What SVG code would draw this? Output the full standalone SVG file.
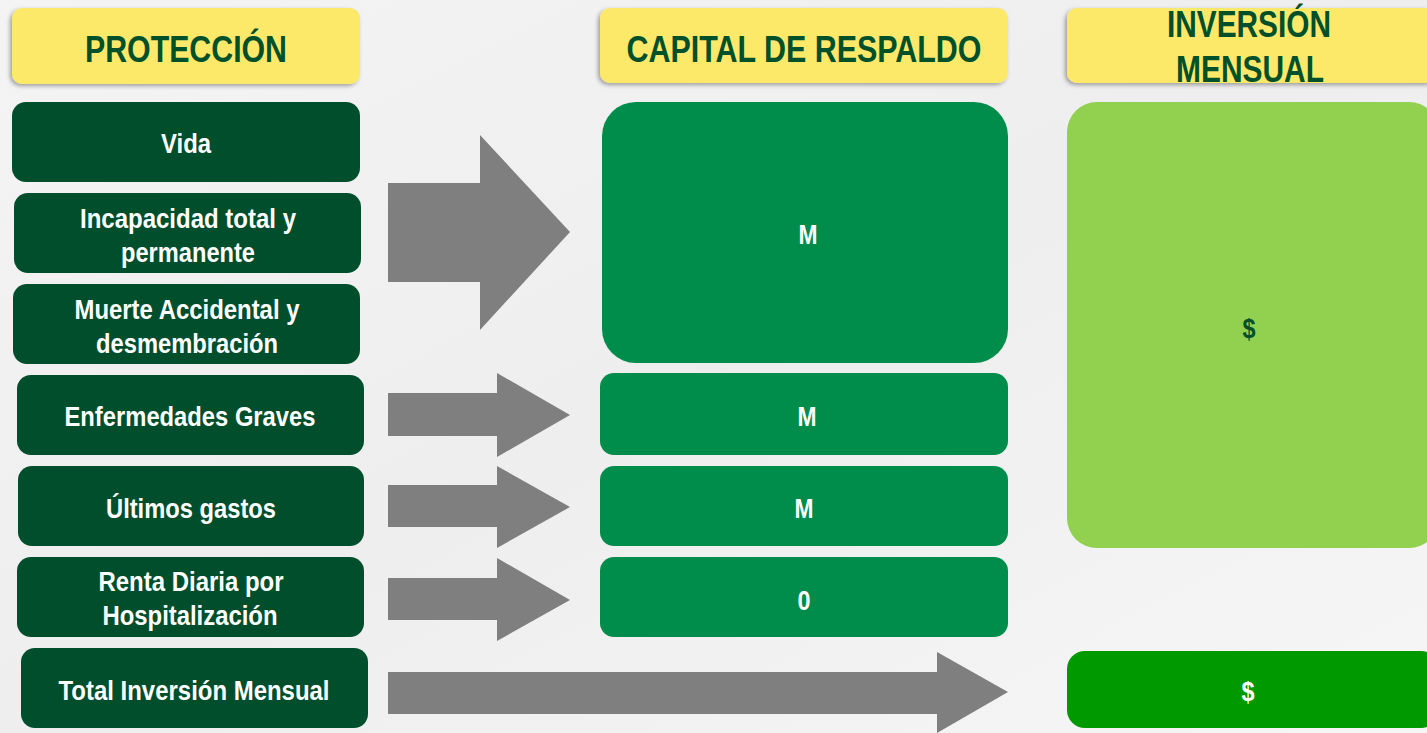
<svg xmlns="http://www.w3.org/2000/svg" width="1427" height="733" viewBox="0 0 1427 733">
<style>
.hdr{fill:#fce96a;filter:url(#sh)}
.ht{font-family:"Liberation Sans",Arial,sans-serif;font-weight:bold;font-size:37px;fill:#00502a;text-anchor:middle}
.ln{fill:#004e2b}
.mn{fill:#008d4c}
.nt{font-family:"Liberation Sans",Arial,sans-serif;font-weight:bold;font-size:27px;fill:#ffffff;text-anchor:middle}
.arr{fill:#7f7f7f}
</style>
<defs>
<filter id="sh" x="-10%" y="-20%" width="120%" height="150%">
<feDropShadow dx="-2" dy="2" stdDeviation="2" flood-color="#000" flood-opacity="0.35"/>
</filter>
<linearGradient id="bg" x1="0" y1="0" x2="1" y2="1">
<stop offset="0" stop-color="#f4f4f4"/>
<stop offset="0.5" stop-color="#eeeeee"/>
<stop offset="1" stop-color="#f6f6f6"/>
</linearGradient>
</defs>
<rect width="1427" height="733" fill="url(#bg)"/>

<g id="h1"><rect class="hdr" x="12" y="8" width="348" height="76" rx="10"/><text class="ht" x="186" y="62" textLength="202" lengthAdjust="spacingAndGlyphs">PROTECCIÓN</text></g>
<g id="h2"><rect class="hdr" x="600" y="8" width="408" height="75" rx="10"/><text class="ht" x="804" y="62" textLength="355" lengthAdjust="spacingAndGlyphs">CAPITAL DE RESPALDO</text></g>
<g id="h3"><rect class="hdr" x="1067" y="8" width="370" height="75" rx="10"/><text class="ht" x="1249" y="37" textLength="164" lengthAdjust="spacingAndGlyphs">INVERSIÓN</text><text class="ht" x="1250" y="82" textLength="148" lengthAdjust="spacingAndGlyphs">MENSUAL</text></g>

<g id="connectors">
<polygon class="arr" points="388,183 480,183 480,135 570,232 480,330 480,282 388,282"/>
<polygon class="arr" points="388,393 497,393 497,373 570,415 497,457 497,436 388,436"/>
<polygon class="arr" points="388,485 497,485 497,466 570,507 497,548 497,527 388,527"/>
<polygon class="arr" points="388,578 497,578 497,558 570,600 497,641 497,620 388,620"/>
<polygon class="arr" points="388,672 937,672 937,652 1008,692 937,733 937,714 388,714"/>
</g>

<g id="n-vida"><rect class="ln" x="12" y="102" width="348" height="80" rx="14"/><text class="nt" x="186" y="153" textLength="50" lengthAdjust="spacingAndGlyphs">Vida</text></g>
<g id="n-incap"><rect class="ln" x="14" y="193" width="347" height="80" rx="14"/><text class="nt" x="188" y="228" textLength="216" lengthAdjust="spacingAndGlyphs">Incapacidad total y</text><text class="nt" x="188" y="262" textLength="134" lengthAdjust="spacingAndGlyphs">permanente</text></g>
<g id="n-muerte"><rect class="ln" x="13" y="284" width="347" height="80" rx="14"/><text class="nt" x="187" y="319" textLength="225" lengthAdjust="spacingAndGlyphs">Muerte Accidental y</text><text class="nt" x="187" y="353" textLength="182" lengthAdjust="spacingAndGlyphs">desmembración</text></g>
<g id="n-enf"><rect class="ln" x="17" y="375" width="347" height="80" rx="14"/><text class="nt" x="190" y="426" textLength="251" lengthAdjust="spacingAndGlyphs">Enfermedades Graves</text></g>
<g id="n-ult"><rect class="ln" x="18" y="466" width="346" height="80" rx="14"/><text class="nt" x="191" y="518" textLength="170" lengthAdjust="spacingAndGlyphs">Últimos gastos</text></g>
<g id="n-renta"><rect class="ln" x="17" y="557" width="347" height="80" rx="14"/><text class="nt" x="191" y="591" textLength="185" lengthAdjust="spacingAndGlyphs">Renta Diaria por</text><text class="nt" x="190" y="625" textLength="175" lengthAdjust="spacingAndGlyphs">Hospitalización</text></g>
<g id="n-total"><rect class="ln" x="21" y="648" width="347" height="80" rx="14"/><text class="nt" x="194" y="700" textLength="271" lengthAdjust="spacingAndGlyphs">Total Inversión Mensual</text></g>

<g id="c-m1"><rect class="mn" x="602" y="102" width="406" height="261" rx="34"/><text class="nt" x="808" y="244" textLength="19" lengthAdjust="spacingAndGlyphs">M</text></g>
<g id="c-m2"><rect class="mn" x="600" y="373" width="408" height="82" rx="14"/><text class="nt" x="807" y="426" textLength="19" lengthAdjust="spacingAndGlyphs">M</text></g>
<g id="c-m3"><rect class="mn" x="600" y="466" width="408" height="80" rx="14"/><text class="nt" x="804" y="518" textLength="19" lengthAdjust="spacingAndGlyphs">M</text></g>
<g id="c-0"><rect class="mn" x="600" y="557" width="408" height="80" rx="14"/><text class="nt" x="804" y="610" textLength="13" lengthAdjust="spacingAndGlyphs">0</text></g>

<g id="i-main"><rect x="1067" y="102" width="372" height="446" rx="30" fill="#92d050"/><text class="nt" x="1249" y="338" textLength="13" lengthAdjust="spacingAndGlyphs" style="fill:#00502a">$</text></g>
<g id="i-total"><rect x="1067" y="651" width="372" height="77" rx="18" fill="#009900"/><text class="nt" x="1248" y="701" textLength="13" lengthAdjust="spacingAndGlyphs">$</text></g>
</svg>
